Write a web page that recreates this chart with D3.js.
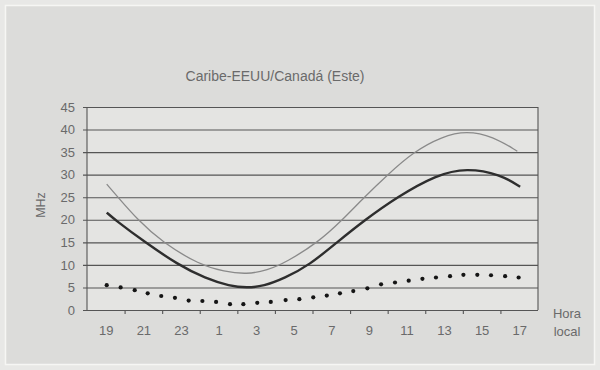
<!DOCTYPE html>
<html><head><meta charset="utf-8">
<script src="https://cdn.jsdelivr.net/npm/d3@7"></script>
<style>
html,body{margin:0;padding:0;background:#e6e6e4;}
svg{display:block;}
text{font-family:"Liberation Sans",Arial,sans-serif;fill:#6a6a6a;}
</style></head>
<body><svg id="c" width="600" height="370"></svg>
<script>
const title = "Caribe-EEUU/Canadá (Este)";
const yLabel = "MHz";
const xLabelLines = ["Hora", "local"];
const yTicks = [0, 5, 10, 15, 20, 25, 30, 35, 40, 45];
const xLabelHours = [19, 21, 23, 25, 27, 29, 31, 33, 35, 37, 39, 41];
const xTickHours = [20, 22, 24, 26, 28, 30, 32, 34, 36, 38, 40];

// Thin gray curve (upper)
const upperHours  = [19.05, 19.65, 20.7, 22.0, 24.0, 25.3, 26.5, 27.6, 28.6, 30.3, 31.6, 32.75, 34.0, 35.35, 36.9, 38.2, 39.6, 40.9];
const upperValues = [27.9, 25.0, 20.0, 15.0, 10.0, 8.5, 7.9, 8.8, 10.6, 15.0, 20.0, 25.0, 30.0, 35.0, 38.5, 39.7, 38.5, 35.2];

// Thick dark curve (middle)
const midHours  = [19.05, 19.49, 21.09, 22.86, 24.3, 25.6, 26.5, 27.4, 28.5, 29.85, 31.3, 32.8, 34.48, 36.6, 38.2, 40.0, 41.05];
const midValues = [21.6, 20.0, 15.0, 10.0, 7.0, 5.3, 4.9, 5.3, 7.0, 10.0, 15.0, 20.0, 25.0, 30.0, 31.5, 30.1, 27.3];

// Dotted curve (lower)
const lowHours  = [19.05, 19.79, 20.54, 21.23, 21.95, 22.68, 23.41, 24.14, 24.87, 25.61, 26.32, 27.06, 27.78, 28.57, 29.30, 30.04, 30.76, 31.46, 32.17, 32.92, 33.65, 34.39, 35.12, 35.85, 36.57, 37.32, 38.03, 38.77, 39.50, 40.25, 40.97];
const lowValues = [5.5, 5.0, 4.4, 3.7, 3.1, 2.7, 2.1, 2.0, 1.8, 1.3, 1.3, 1.6, 1.8, 2.2, 2.4, 2.8, 3.2, 3.7, 4.2, 4.8, 5.7, 6.1, 6.5, 6.9, 7.2, 7.5, 7.8, 7.8, 7.7, 7.5, 7.2];

const svg = d3.select("#c");
const W = 600, H = 370;
const L = 87, R = 538, T = 107, B = 310;

// background and frame
svg.append("rect").attr("width", W).attr("height", H).attr("fill", "#e8e8e6");
svg.append("rect").attr("x", 5.5).attr("y", 5.5).attr("width", W - 11).attr("height", H - 11)
  .attr("fill", "#dcdcda").attr("stroke", "#f6f6f4").attr("stroke-width", 1.5);
svg.append("rect").attr("x", L).attr("y", T).attr("width", R - L).attr("height", B - T).attr("fill", "#e4e4e2");

const x = d3.scaleLinear().domain([18, 42]).range([L, R]);
const y = d3.scaleLinear().domain([0, 45]).range([B, T]);

// title
svg.append("text").attr("x", 275).attr("y", 81).attr("text-anchor", "middle")
  .style("font-size", "14px").text(title);

// gridlines
const grid = svg.append("g").attr("transform", `translate(${R},0)`)
  .call(d3.axisLeft(y).tickValues(yTicks).tickSize(R - L + 4).tickFormat(""));
grid.select(".domain").remove();
grid.selectAll("line").attr("stroke", "#555").attr("stroke-width", 1.1);

// y axis labels
const yAx = svg.append("g").attr("transform", `translate(${L},0)`)
  .call(d3.axisLeft(y).tickValues(yTicks).tickSize(0).tickPadding(12));
yAx.select(".domain").remove();
yAx.selectAll("text").style("font-size", "13px").attr("fill", "#6a6a6a");

// left axis & right border
svg.append("line").attr("x1", L).attr("x2", L).attr("y1", T).attr("y2", B).attr("stroke", "#555").attr("stroke-width", 1.1);
svg.append("line").attr("x1", R).attr("x2", R).attr("y1", T).attr("y2", B).attr("stroke", "#555").attr("stroke-width", 1.1);

// x tick marks
const xT = svg.append("g").attr("transform", `translate(0,${B})`)
  .call(d3.axisBottom(x).tickValues(xTickHours).tickSize(4).tickFormat(""));
xT.select(".domain").remove();
xT.selectAll("line").attr("stroke", "#555").attr("stroke-width", 1.1);

// x labels
const xL = svg.append("g").attr("transform", `translate(0,${B})`)
  .call(d3.axisBottom(x).tickValues(xLabelHours).tickSize(0).tickPadding(16).tickFormat(h => String(h % 24)));
xL.select(".domain").remove();
xL.selectAll("text").style("font-size", "13px").attr("fill", "#6a6a6a");

// axis titles
svg.append("text").attr("transform", "translate(45,205) rotate(-90)").attr("text-anchor", "middle")
  .style("font-size", "12.5px").text(yLabel);
svg.selectAll(".xlab").data(xLabelLines).enter().append("text")
  .attr("x", 567).attr("y", (d, i) => 318 + i * 18).attr("text-anchor", "middle")
  .style("font-size", "13px").text(d => d);

// curves
const line = d3.line().x(d => x(d[0])).y(d => y(d[1])).curve(d3.curveBasis);
svg.append("path").datum(d3.zip(upperHours, upperValues)).attr("d", line)
  .attr("fill", "none").attr("stroke", "#8a8a8a").attr("stroke-width", 1.3);
svg.append("path").datum(d3.zip(midHours, midValues)).attr("d", line)
  .attr("fill", "none").attr("stroke", "#2e2e2e").attr("stroke-width", 2.4);

svg.selectAll(".dot").data(d3.zip(lowHours, lowValues)).enter().append("circle")
  .attr("cx", d => x(d[0])).attr("cy", d => y(d[1])).attr("r", 2.1).attr("fill", "#151515");
</script></body></html>
